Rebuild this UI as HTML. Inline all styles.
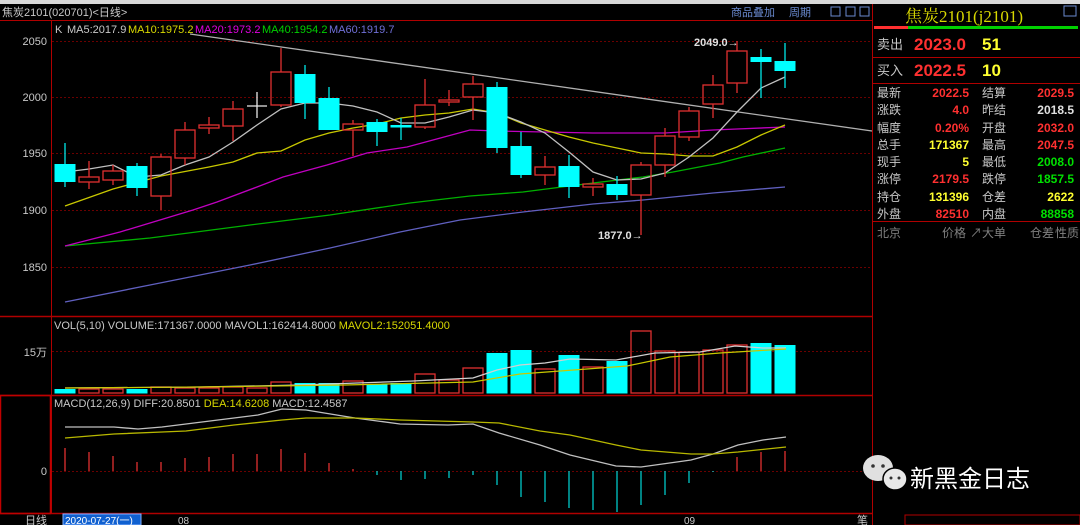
<!DOCTYPE html>
<html><head><meta charset="utf-8"><style>
html,body{margin:0;padding:0;background:#000;width:1080px;height:525px;overflow:hidden}
svg{display:block;font-family:"Liberation Sans","Noto Sans CJK SC",sans-serif}
</style></head><body>
<svg width="1080" height="525" viewBox="0 0 1080 525" xmlns="http://www.w3.org/2000/svg">
<rect width="1080" height="525" fill="#000"/>
<rect x="0" y="0" width="1080" height="4" fill="#d8d8d8"/>
<text x="2" y="16" font-size="11" fill="#c8c8c8">焦炭2101(020701)&lt;日线&gt;</text>
<text x="731" y="16" font-size="11" fill="#6a8ad0">商品叠加</text>
<text x="789" y="16" font-size="11" fill="#6a8ad0">周期</text>
<rect x="831" y="7" width="9" height="9" fill="none" stroke="#6a8ad0"/>
<rect x="846" y="7" width="9" height="9" fill="none" stroke="#6a8ad0"/>
<rect x="860" y="7" width="9" height="9" fill="none" stroke="#6a8ad0"/>
<line x1="0" y1="20.5" x2="872" y2="20.5" stroke="#b00000"/>
<line x1="51.5" y1="20" x2="51.5" y2="513" stroke="#b00000"/>
<line x1="872.5" y1="4" x2="872.5" y2="525" stroke="#b00000"/>
<line x1="0" y1="316.5" x2="872" y2="316.5" stroke="#b00000" stroke-width="1.5"/>
<line x1="0" y1="395.5" x2="872" y2="395.5" stroke="#b00000" stroke-width="1.5"/>
<line x1="0" y1="513.5" x2="872" y2="513.5" stroke="#b00000" stroke-width="1.5"/>
<rect x="0.5" y="395.5" width="50" height="118" fill="none" stroke="#c00000" stroke-width="1.5"/>
<g stroke="#6a0000" stroke-dasharray="2,2">
<line x1="52" y1="41.5" x2="872" y2="41.5"/><line x1="52" y1="97.5" x2="872" y2="97.5"/>
<line x1="52" y1="153.5" x2="872" y2="153.5"/><line x1="52" y1="210.5" x2="872" y2="210.5"/>
<line x1="52" y1="267.5" x2="872" y2="267.5"/><line x1="52" y1="351.5" x2="872" y2="351.5"/>
<line x1="52" y1="471.5" x2="872" y2="471.5"/>
</g>
<g font-size="11" fill="#c8c8c8" text-anchor="end">
<text x="47" y="45">2050</text><text x="47" y="101">2000</text><text x="47" y="157">1950</text>
<text x="47" y="214">1900</text><text x="47" y="271">1850</text><text x="47" y="356">15万</text><text x="47" y="475">0</text>
</g>
<g font-size="11">
<text x="55" y="33" fill="#c8c8c8">K</text>
<text x="67" y="33" fill="#c8c8c8">MA5:2017.9</text>
<text x="128" y="33" fill="#d8d800">MA10:1975.2</text>
<text x="195" y="33" fill="#e000e0">MA20:1973.2</text>
<text x="262" y="33" fill="#00d000">MA40:1954.2</text>
<text x="329" y="33" fill="#7070d8">MA60:1919.7</text>
<text x="54" y="329" fill="#c8c8c8">VOL(5,10) VOLUME:171367.0000 MAVOL1:162414.8000 <tspan fill="#d8d800">MAVOL2:152051.4000</tspan></text>
<text x="54" y="407" fill="#c8c8c8">MACD(12,26,9) DIFF:20.8501 <tspan fill="#d8d800">DEA:14.6208</tspan> MACD:12.4587</text>
</g>
<!-- trend line -->
<line x1="190" y1="34" x2="872" y2="131" stroke="#b0b0b0" stroke-width="1.3"/>
<!-- MAs -->
<polyline fill="none" stroke="#6060c0" stroke-width="1.3" points="65,302 150,285 250,265 330,248 400,232 460,220 523,212 593,204 643,200 713,193 785,187"/>
<polyline fill="none" stroke="#00b000" stroke-width="1.3" points="65,246 150,238 250,225 330,215 410,203 470,196 523,192 593,183 643,177 673,172 720,163 743,157 785,148"/>
<polyline fill="none" stroke="#c000c0" stroke-width="1.3" points="65,246 120,232 193,210 217,202 257,187 283,177 327,165 367,153 407,147 433,140 470,130 497,131 593,133 665,133 713,130 737,129 785,127"/>
<polyline fill="none" stroke="#c8c800" stroke-width="1.3" points="65,206 113,189 161,176 209,167 233,162 257,153 281,151 305,140 329,133 353,128 377,124 401,118 425,115 449,113 473,109 497,113 521,123 545,130 569,137 593,143 617,148 641,153 665,154 689,156 713,156 737,147 761,135 785,125"/>
<polyline fill="none" stroke="#c0c0c0" stroke-width="1.3" points="65,172 89,169 113,165 137,177 161,175 185,165 209,157 233,142 257,125 281,109 305,103 329,103 353,106 377,112 401,123 425,123 449,117 473,110 497,113 521,122 545,133 569,152 593,172 617,180 641,179 665,173 689,157 713,138 737,112 761,88 785,77"/>
<!-- candles -->
<g stroke="#e03030" stroke-width="1.3" fill="none">
<path d="M89 161V177M89 182V189M113 165V171M113 180V185M161 154V157M161 196V210M185 122V130M185 158V165M209 117V125M209 128V134M233 101V109M233 126V141M281 48V72M281 105V107M353 120V124M353 130V156M425 79V105M425 127V129M449 90V100M449 102V106M473 76V84M473 97V120M545 156V167M545 175V185M593 178V184M593 187V196M641 162V165M641 195V235M665 128V136M665 165V177M689 107V111M689 137V141M713 75V85M713 104V118M737 41V51M737 83V93"/>
<rect x="79" y="177" width="20" height="5"/><rect x="103" y="171" width="20" height="9"/>
<rect x="151" y="157" width="20" height="39"/><rect x="175" y="130" width="20" height="28"/>
<rect x="199" y="125" width="20" height="3"/><rect x="223" y="109" width="20" height="17"/>
<rect x="271" y="72" width="20" height="33"/><rect x="343" y="124" width="20" height="6"/>
<rect x="415" y="105" width="20" height="22"/><rect x="439" y="100" width="20" height="2"/>
<rect x="463" y="84" width="20" height="13"/><rect x="535" y="167" width="20" height="8"/>
<rect x="583" y="184" width="20" height="3"/><rect x="631" y="165" width="20" height="30"/>
<rect x="655" y="136" width="20" height="29"/><rect x="679" y="111" width="20" height="26"/>
<rect x="703" y="85" width="20" height="19"/><rect x="727" y="51" width="20" height="32"/>
</g>
<g stroke="#00e8e8" stroke-width="1.3"><path d="M65 143V187M137 163V196M305 65V119M329 87V130M377 119V146M401 118V140M497 82V153M521 132V178M569 155V198M617 176V200M761 49V98M785 43V88"/></g>
<g fill="#00ffff">
<rect x="54.5" y="164" width="21" height="18"/><rect x="126.5" y="166" width="21" height="22"/>
<rect x="294.5" y="74" width="21" height="29"/><rect x="318.5" y="98" width="21" height="32"/>
<rect x="366.5" y="122" width="21" height="10"/><rect x="390.5" y="125" width="21" height="2.5"/>
<rect x="486.5" y="87" width="21" height="61"/><rect x="510.5" y="146" width="21" height="29"/>
<rect x="558.5" y="166" width="21" height="21"/><rect x="606.5" y="184" width="21" height="11"/>
<rect x="750.5" y="57" width="21" height="5"/><rect x="774.5" y="61" width="21" height="10"/>
</g>
<path d="M257 92V118M247 106H267" stroke="#e8e8e8" stroke-width="1.3"/>
<g font-size="11" fill="#e0e0e0" font-weight="bold">
<text x="694" y="46">2049.0→</text><text x="598" y="239">1877.0→</text>
</g>
<!-- volume -->
<g stroke="#e03030" stroke-width="1.3" fill="none">
<rect x="79" y="389" width="20" height="4"/><rect x="103" y="389" width="20" height="4"/>
<rect x="151" y="387" width="20" height="6"/><rect x="175" y="388" width="20" height="5"/>
<rect x="199" y="388" width="20" height="5"/><rect x="223" y="387" width="20" height="6"/>
<rect x="247" y="388" width="20" height="5"/><rect x="271" y="382" width="20" height="11"/>
<rect x="343" y="381" width="20" height="12"/><rect x="415" y="374" width="20" height="19"/>
<rect x="439" y="380" width="20" height="13"/><rect x="463" y="368" width="20" height="25"/>
<rect x="535" y="369" width="20" height="24"/><rect x="583" y="367" width="20" height="26"/>
<rect x="631" y="331" width="20" height="62"/><rect x="655" y="351" width="20" height="42"/>
<rect x="679" y="352" width="20" height="41"/><rect x="703" y="350" width="20" height="43"/>
<rect x="727" y="345" width="20" height="48"/>
</g>
<g fill="#00ffff">
<rect x="54.5" y="389" width="21" height="4.5"/><rect x="126.5" y="389" width="21" height="4.5"/>
<rect x="294.5" y="383" width="21" height="10.5"/><rect x="318.5" y="383" width="21" height="10.5"/>
<rect x="366.5" y="384" width="21" height="9.5"/><rect x="390.5" y="383" width="21" height="10.5"/>
<rect x="486.5" y="353" width="21" height="40.5"/><rect x="510.5" y="350" width="21" height="43.5"/>
<rect x="558.5" y="355" width="21" height="38.5"/><rect x="606.5" y="361" width="21" height="32.5"/>
<rect x="750.5" y="343" width="21" height="50.5"/><rect x="774.5" y="345" width="21" height="48.5"/>
</g>
<polyline fill="none" stroke="#d0d0d0" stroke-width="1.2" points="65,388 200,387 300,385 413,381 473,378 497,370 520,365 545,363 570,359 616,360 655,353 700,352 735,346 763,348 786,348"/>
<polyline fill="none" stroke="#c8c800" stroke-width="1.2" points="65,388 200,387 345,385 473,382 520,374 627,366 670,357 720,353 786,349"/>
<!-- MACD -->
<g stroke="#e03030" stroke-width="1.3">
<path d="M65 471V448M89 471V452M113 471V456M137 471V462M161 471V462M185 471V458M209 471V457M233 471V454M257 471V454M281 471V449M305 471V453M329 471V463M353 471V469M737 471V457M761 471V452M785 471V451"/>
</g>
<g stroke="#00c8c8" stroke-width="1.3">
<path d="M377 471V475M401 471V480M425 471V479M449 471V478M473 471V475M497 471V485M521 471V497M545 471V502M569 471V508M593 471V510M617 471V512M641 471V505M665 471V495M689 471V483M713 471V472"/>
</g>
<polyline fill="none" stroke="#c0c0c0" stroke-width="1.3" points="65,427 114,427 138,429 162,427 186,424 234,418 258,415 282,409 306,410 355,418 400,424 448,425 473,424 499,433 540,445 570,455 616,466 641,467 691,460 713,454 738,445 763,440 786,437"/>
<polyline fill="none" stroke="#b8b800" stroke-width="1.3" points="65,438 114,434 162,432 186,431 234,425 282,420 306,418 355,418 400,420 473,422 499,423 540,431 570,435 616,445 641,450 691,454 713,454 738,452 786,447"/>
<!-- bottom axis -->
<text x="25" y="524" font-size="11" fill="#c8c8c8">日线</text>
<rect x="63" y="514" width="78" height="11" fill="#1060d0" stroke="#80b0ff"/>
<text x="65" y="524" font-size="10" fill="#fff">2020-07-27(一)</text>
<text x="178" y="524" font-size="10" fill="#c8c8c8">08</text>
<text x="684" y="524" font-size="10" fill="#c8c8c8">09</text>
<!-- right panel -->
<text x="905" y="22" font-size="17" fill="#d8d800" font-family="Liberation Serif,Noto Serif CJK SC,serif">焦炭2101(j2101)</text>
<rect x="1064" y="6" width="12" height="10" fill="none" stroke="#6a8ad0"/>
<rect x="874" y="26" width="34" height="3" fill="#ff3030"/>
<rect x="908" y="26" width="170" height="3" fill="#00d000"/>
<line x1="873" y1="57.5" x2="1080" y2="57.5" stroke="#b00000"/>
<line x1="873" y1="83.5" x2="1080" y2="83.5" stroke="#b00000"/>
<line x1="873" y1="221.5" x2="1080" y2="221.5" stroke="#b00000"/>
<g font-size="13" fill="#c8c8c8"><text x="877" y="49">卖出</text><text x="877" y="75">买入</text></g>
<g font-size="17" font-weight="bold"><text x="914" y="50" fill="#ff3030">2023.0</text><text x="982" y="50" fill="#ffff30">51</text>
<text x="914" y="76" fill="#ff3030">2022.5</text><text x="982" y="76" fill="#ffff30">10</text></g>
<g font-size="12" fill="#c8c8c8">
<text x="877" y="97">最新</text><text x="877" y="114">涨跌</text><text x="877" y="132">幅度</text><text x="877" y="149">总手</text>
<text x="877" y="166">现手</text><text x="877" y="183">涨停</text><text x="877" y="201">持仓</text><text x="877" y="218">外盘</text>
<text x="982" y="97">结算</text><text x="982" y="114">昨结</text><text x="982" y="132">开盘</text><text x="982" y="149">最高</text>
<text x="982" y="166">最低</text><text x="982" y="183">跌停</text><text x="982" y="201">仓差</text><text x="982" y="218">内盘</text>
</g>
<g font-size="12" text-anchor="end" font-weight="bold">
<text x="969" y="97" fill="#ff3030">2022.5</text><text x="969" y="114" fill="#ff3030">4.0</text>
<text x="969" y="132" fill="#ff3030">0.20%</text><text x="969" y="149" fill="#ffff30">171367</text>
<text x="969" y="166" fill="#ffff30">5</text><text x="969" y="183" fill="#ff3030">2179.5</text>
<text x="969" y="201" fill="#ffff30">131396</text><text x="969" y="218" fill="#ff3030">82510</text>
<text x="1074" y="97" fill="#ff3030">2029.5</text><text x="1074" y="114" fill="#e0e0e0">2018.5</text>
<text x="1074" y="132" fill="#ff3030">2032.0</text><text x="1074" y="149" fill="#ff3030">2047.5</text>
<text x="1074" y="166" fill="#00e000">2008.0</text><text x="1074" y="183" fill="#00e000">1857.5</text>
<text x="1074" y="201" fill="#ffff30">2622</text><text x="1074" y="218" fill="#00e000">88858</text>
</g>
<g font-size="12" fill="#808080">
<text x="877" y="237">北京</text><text x="942" y="237">价格</text><text x="970" y="237">↗大单</text>
<text x="1030" y="237">仓差</text><text x="1055" y="237">性质</text>
</g>
<text x="857" y="524" font-size="11" fill="#c8c8c8">笔</text>
<rect x="905" y="515" width="175" height="10" fill="none" stroke="#b00000"/>
<!-- watermark -->
<ellipse cx="878" cy="468" rx="15" ry="13" fill="#e0e0e0"/>
<ellipse cx="895" cy="479" rx="12" ry="11" fill="#e8e8e8" stroke="#000" stroke-width="1.5"/>
<circle cx="873" cy="466" r="1.8" fill="#333"/><circle cx="883" cy="466" r="1.8" fill="#333"/>
<circle cx="891" cy="478" r="1.5" fill="#333"/><circle cx="899" cy="478" r="1.5" fill="#333"/>
<text x="910" y="487" font-size="24" fill="#ffffff" font-family="Liberation Sans,Noto Sans CJK SC,sans-serif">新黑金日志</text>
</svg>
</body></html>
